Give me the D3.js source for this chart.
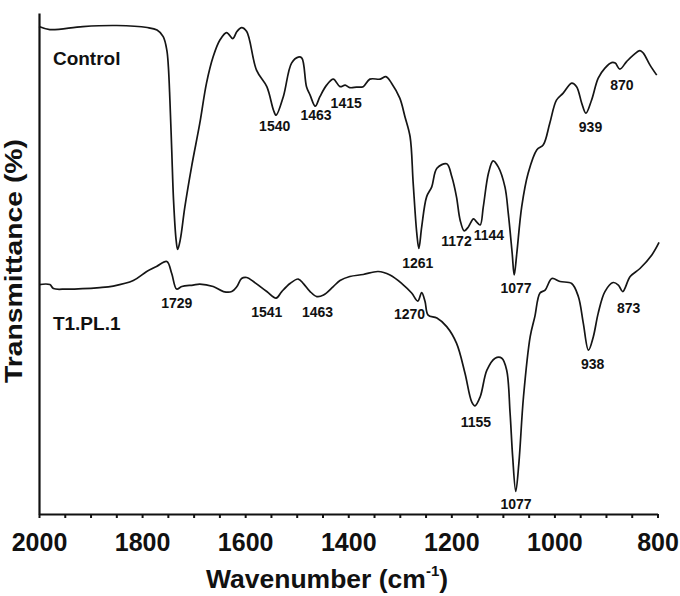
<!DOCTYPE html>
<html>
<head>
<meta charset="utf-8">
<script src="https://cdn.jsdelivr.net/npm/d3@7"></script>
<style>
  html, body { margin: 0; padding: 0; background: #fff; }
  svg { display: block; }
  text { font-family: "Liberation Sans", Arial, Helvetica, sans-serif; font-weight: bold; fill: #111; }
</style>
</head>
<body>
<svg id="chart" width="680" height="596"></svg>
<script>
// ---- Data (wavenumber cm^-1, relative transmittance) ----
const controlWn = [2000,1979,1915,1849,1790,1771,1759,1752,1749,1746,1742.5,1739,1734,1731,1726,1717,1704,1688,1675,1662,1649,1636,1624,1616,1607,1597,1578,1558,1545,1540,1526,1510,1497,1490,1481,1474,1464,1455,1442,1429,1416,1406,1397,1384,1371,1358,1338,1327,1316,1300,1290,1280,1274,1267,1263,1257.5,1248,1238,1228,1209,1199,1190,1183,1175,1167,1157,1151,1144,1138,1128,1119,1109,1096,1089.5,1082,1078,1073,1063.5,1051,1034,1021.5,1009,996,983,966.5,957,947,939,928,915,902,889,882,873,860,847,834,827.5,814.5,801.5];
const controlT  = [97.3,96.7,97.3,97.5,97.1,96.6,95.3,92.6,89.3,82.6,72.7,62.7,54.7,52.8,54.7,61.3,69.3,78.0,86.0,91.3,94.6,96.1,94.9,96.3,97.1,96.3,88.6,85.3,80.6,79.6,83.3,90.0,91.2,91.0,85.3,83.6,81.4,83.3,85.6,86.8,85.3,85.6,85.1,85.2,85.3,86.8,86.8,87.3,86.0,83.0,79.3,75.3,66.0,56.0,53.0,57.3,63.3,65.3,69.0,69.9,67.3,63.3,58.7,56.5,57.3,58.9,58.3,57.7,61.3,68.0,70.5,69.3,65.3,60.0,52.1,47.7,52.0,61.3,68.0,72.7,73.7,78.0,82.6,84.0,86.0,85.3,82.0,80.0,82.6,87.0,89.0,90.1,90.0,88.8,90.3,91.6,92.5,92.0,89.6,87.6];

const t1Wn = [2000,1979,1972,1946,1882,1856,1817,1791,1772,1752,1742.5,1733,1723,1701,1688,1662,1642,1626,1616,1607,1597,1584,1558,1540,1529,1513,1497,1487,1474,1461,1448,1429,1416,1397,1371,1342,1319,1296,1277,1265,1257.5,1251,1245,1228,1209,1190,1173.5,1160.5,1154,1144,1131,1115,1102,1092.6,1086,1081,1075,1069,1060,1047,1038,1028,1018,1005,989,966.5,953.6,944,934,924.5,915,902,886,876,867.5,853,834,811,797];
const t1T  = [45.8,45.8,45.0,44.9,45.2,45.5,46.6,48.4,49.4,50.4,48.0,44.9,45.4,45.7,45.9,45.4,44.4,44.4,45.4,47.0,47.2,46.4,44.4,43.1,44.4,46.0,46.9,46.0,44.4,43.4,43.7,45.4,46.6,47.4,47.8,48.4,47.7,46.0,44.1,42.5,44.2,42.4,39.7,39.1,37.4,34.1,28.1,22.4,21.6,23.4,28.7,31.1,31.1,28.7,20.1,11.4,4.5,10.1,23.4,35.4,39.4,44.1,44.7,47.0,46.4,46.0,43.4,38.1,32.7,35.4,40.1,44.4,46.2,45.7,44.4,47.4,49.0,51.7,54.2];

const seriesNames = ["Control", "T1.PL.1"];
const seriesNamePos = [[1973, 89.6], [1973, 36.7]];   // wavenumber, transmittance of label

const controlPeakText = ["1540","1463","1415","1261","1172","1144","1077","939","870"];
const controlPeakWn   = [1542.7,1462.6,1404,1265,1190,1127,1074.5,930,869];
const controlPeakT    = [76.4,78.6,81.0,49.1,53.4,54.6,44.1,76.3,84.6];

const t1PeakText = ["1729","1541","1463","1270","1155","1077","938","873"];
const t1PeakWn   = [1732.6,1558,1459.6,1281,1152.5,1074.5,926,856];
const t1PeakT    = [41.1,39.3,39.3,38.9,17.4,1.0,28.9,40.2];

const xTickValues = d3.range(2000, 799, -50);
const xLabelValues = [2000, 1800, 1600, 1400, 1200, 1000, 800];

// ---- Drawing ----
const svg = d3.select("#chart");
const x = d3.scaleLinear().domain([2000, 800]).range([39, 657.5]);
const y = d3.scaleLinear().domain([0, 100]).range([514, 13]);

const line = d3.line()
  .x(d => x(d[0]))
  .y(d => y(d[1]))
  .curve(d3.curveCatmullRom.alpha(0.5));

const series = [
  d3.zip(controlWn, controlT),
  d3.zip(t1Wn, t1T)
];

svg.append("g").selectAll("path")
  .data(series)
  .join("path")
  .attr("d", line)
  .attr("fill", "none")
  .attr("stroke", "#151515")
  .attr("stroke-width", 1.7)
  .attr("stroke-linejoin", "round");

// axes
const xAxis = d3.axisBottom(x)
  .tickValues(xTickValues)
  .tickSizeInner(4)
  .tickSizeOuter(0)
  .tickFormat(d => xLabelValues.includes(d) ? d3.format("d")(d) : "");

const gx = svg.append("g")
  .attr("transform", `translate(0,${y(0)})`)
  .call(xAxis);
gx.select(".domain").attr("stroke", "#111").attr("stroke-width", 2.2);
gx.selectAll(".tick line").attr("stroke", "#111").attr("stroke-width", 2);
gx.selectAll(".tick text")
  .attr("y", 37).attr("dy", 0)
  .attr("font-size", 25)
  .attr("font-family", "'Liberation Sans', Arial, sans-serif")
  .attr("font-weight", "bold")
  .attr("fill", "#111");

const yAxis = d3.axisLeft(y).tickValues([]).tickSizeOuter(0);
const gy = svg.append("g")
  .attr("transform", `translate(${x(2000)},0)`)
  .call(yAxis);
gy.select(".domain").attr("stroke", "#111").attr("stroke-width", 2.2);

// series names
svg.append("g").selectAll("text")
  .data(seriesNames)
  .join("text")
  .attr("x", (d, i) => x(seriesNamePos[i][0]))
  .attr("y", (d, i) => y(seriesNamePos[i][1]))
  .attr("font-size", 19)
  .text(d => d);

// peak labels
function peakLabels(texts, wns, ts) {
  svg.append("g").selectAll("text")
    .data(texts)
    .join("text")
    .attr("x", (d, i) => x(wns[i]))
    .attr("y", (d, i) => y(ts[i]))
    .attr("text-anchor", "middle")
    .attr("font-size", 14)
    .text(d => d);
}
peakLabels(controlPeakText, controlPeakWn, controlPeakT);
peakLabels(t1PeakText, t1PeakWn, t1PeakT);

// axis titles
const xt = svg.append("text")
  .attr("x", 206)
  .attr("y", 588)
  .attr("font-size", 26.5);
xt.append("tspan").text("Wavenumber (cm");
xt.append("tspan").attr("font-size", 15).attr("dy", -12).text("-1");
xt.append("tspan").attr("dy", 12).text(")");

svg.append("text")
  .attr("transform", "translate(22,261) rotate(-90)")
  .attr("text-anchor", "middle")
  .attr("font-size", 23)
  .attr("textLength", 244)
  .attr("lengthAdjust", "spacingAndGlyphs")
  .text("Transmittance (%)");
</script>
</body>
</html>
